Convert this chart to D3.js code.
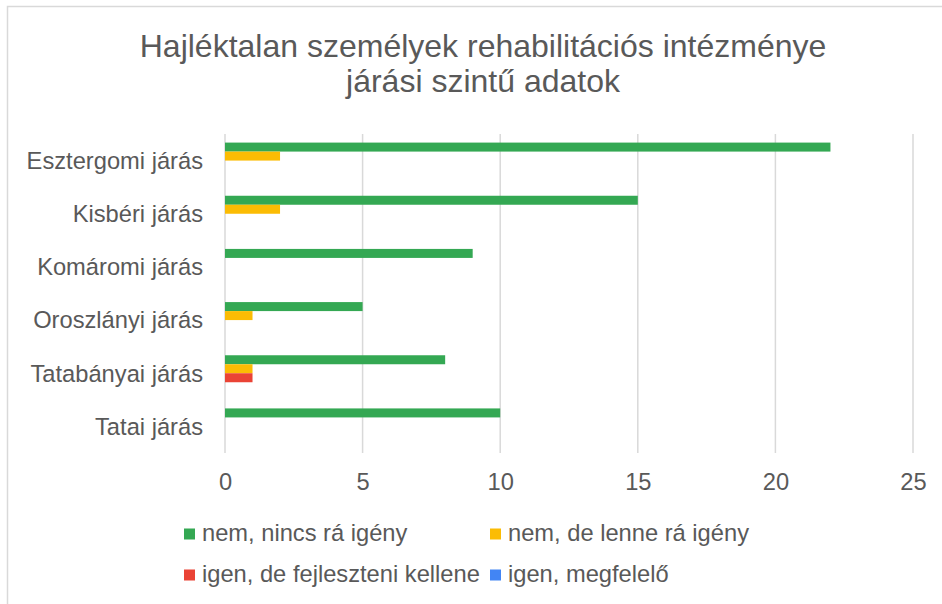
<!DOCTYPE html>
<html>
<head>
<meta charset="utf-8">
<script src="https://cdn.jsdelivr.net/npm/d3@7"></script>
<style>
  html, body { margin: 0; padding: 0; background: #fff; }
  svg { display: block; font-family: "Liberation Sans", Arial, sans-serif; }
</style>
</head>
<body>
<svg id="chart" width="942" height="604"></svg>
<script>
// Districts, top to bottom
const categories = ["Esztergomi járás", "Kisbéri járás", "Komáromi járás", "Oroszlányi járás", "Tatabányai járás", "Tatai járás"];
// Answer options (series)
const seriesNames = ["nem, nincs rá igény", "nem, de lenne rá igény", "igen, de fejleszteni kellene", "igen, megfelelő"];
const seriesColors = ["#34A853", "#FBBC04", "#EA4335", "#4285F4"];
// Counts per district, one array per series
const nincsIgeny   = [22, 15, 9, 5, 8, 10];
const lenneIgeny   = [2, 2, 0, 1, 1, 0];
const fejleszteni  = [0, 0, 0, 0, 1, 0];
const megfelelo    = [0, 0, 0, 0, 0, 0];
const seriesValues = [nincsIgeny, lenneIgeny, fejleszteni, megfelelo];
const xTicks = [0, 5, 10, 15, 20, 25];
const titleLines = ["Hajléktalan személyek rehabilitációs intézménye", "járási szintű adatok"];

const textColor = "#595959";
const gridColor = "#d9d9d9";
const fontSize = 23.7;

const svg = d3.select("#chart");

// outer chart frame
svg.append("rect")
  .attr("x", 7.5).attr("y", 6.5)
  .attr("width", 1000).attr("height", 1000)
  .attr("fill", "#fff")
  .attr("stroke", gridColor).attr("stroke-width", 1.5);

// title
svg.append("g").selectAll("text")
  .data(titleLines)
  .join("text")
  .attr("x", 483)
  .attr("y", (d, i) => 57 + i * 35)
  .attr("text-anchor", "middle")
  .attr("fill", textColor)
  .attr("font-size", 32)
  .text(d => d);

const x = d3.scaleLinear().domain([0, 25]).range([225, 913]);
const y = d3.scaleBand().domain(categories).range([134, 453]).paddingInner(0.323).paddingOuter(0.1615);
const ySeries = d3.scaleBand().domain(d3.range(seriesNames.length)).range([0, y.bandwidth()]);

// vertical gridlines
svg.append("g").selectAll("line")
  .data(xTicks)
  .join("line")
  .attr("x1", d => x(d)).attr("x2", d => x(d))
  .attr("y1", 134).attr("y2", 453)
  .attr("stroke", gridColor).attr("stroke-width", 1.5);

// x axis tick labels
const xAxis = d3.axisBottom(x).tickValues(xTicks).tickSize(0).tickPadding(0);
const gx = svg.append("g").attr("transform", "translate(0,471)").call(xAxis);
gx.select(".domain").remove();
gx.selectAll("text")
  .attr("fill", textColor)
  .attr("font-size", fontSize)
  .attr("font-family", "Liberation Sans, Arial, sans-serif")
  .attr("dy", "0.8em");

// category labels
const yAxis = d3.axisLeft(y).tickSize(0).tickPadding(22);
const gy = svg.append("g").attr("transform", "translate(225,0)").call(yAxis);
gy.select(".domain").remove();
gy.selectAll("text")
  .attr("fill", textColor)
  .attr("font-size", fontSize)
  .attr("font-family", "Liberation Sans, Arial, sans-serif")
  .attr("dy", "0.35em");

// bars
const barData = [];
categories.forEach((c, ci) => {
  seriesValues.forEach((vals, si) => {
    barData.push({ cat: c, s: si, v: vals[ci] });
  });
});
svg.append("g").selectAll("rect")
  .data(barData.filter(d => d.v > 0))
  .join("rect")
  .attr("x", x(0))
  .attr("y", d => y(d.cat) + ySeries(d.s))
  .attr("width", d => x(d.v) - x(0))
  .attr("height", ySeries.bandwidth())
  .attr("fill", d => seriesColors[d.s]);

// legend, two columns by two rows
const legendCols = [184, 490];
const legendRows = [528.5, 569.5];
const legend = svg.append("g").selectAll("g")
  .data(seriesNames)
  .join("g")
  .attr("transform", (d, i) => `translate(${legendCols[i % 2]},${legendRows[Math.floor(i / 2)]})`);
legend.append("rect")
  .attr("width", 11).attr("height", 11)
  .attr("fill", (d, i) => seriesColors[i]);
legend.append("text")
  .attr("x", 18).attr("y", 12.5)
  .attr("fill", textColor)
  .attr("font-size", fontSize)
  .text(d => d);
</script>
</body>
</html>
